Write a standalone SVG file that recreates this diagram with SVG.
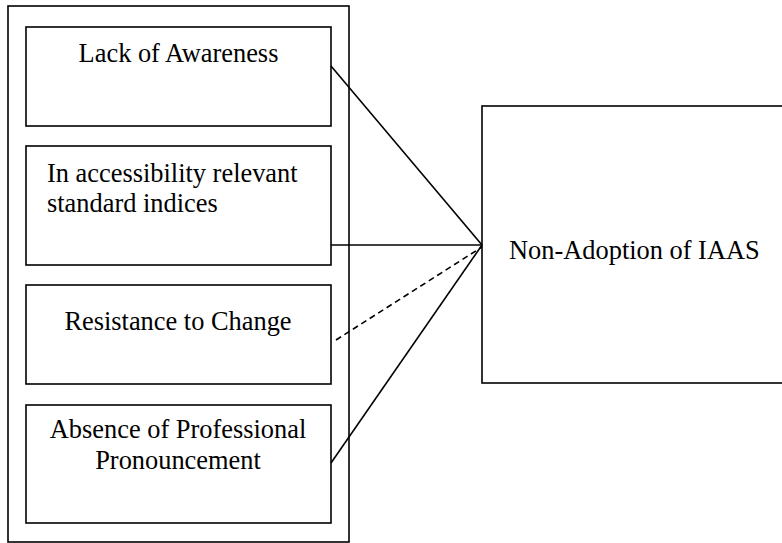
<svg xmlns="http://www.w3.org/2000/svg" width="782" height="543" viewBox="0 0 782 543">
<style>
.box{fill:#fff;stroke:#000;stroke-width:1.6}
.t{font-family:"Liberation Serif","Times New Roman",serif;font-size:26.4px;fill:#000}
.c{fill:none;stroke:#000;stroke-width:1.6}
.d{stroke-dasharray:6 4}
</style>
<rect width="782" height="543" fill="#fff"/>
<g id="container">
<rect class="box" x="8" y="6" width="341" height="536"/>
</g>
<g id="n1">
<rect class="box" x="26" y="27" width="305" height="99"/>
<text class="t" x="178.5" y="62" text-anchor="middle">Lack of Awareness</text>
</g>
<g id="n2">
<rect class="box" x="26" y="146" width="305" height="119"/>
<text class="t" x="47" y="182">In accessibility relevant</text>
<text class="t" x="47" y="212">standard indices</text>
</g>
<g id="n3">
<rect class="box" x="26" y="285" width="305" height="99"/>
<text class="t" x="178" y="330" text-anchor="middle">Resistance to Change</text>
</g>
<g id="n4">
<rect class="box" x="26" y="405" width="305" height="118"/>
<text class="t" x="178" y="438" text-anchor="middle">Absence of Professional</text>
<text class="t" x="178" y="469" text-anchor="middle">Pronouncement</text>
</g>
<g id="target">
<rect class="box" x="482" y="106" width="310" height="277"/>
<text class="t" x="509" y="259">Non-Adoption of IAAS</text>
</g>
<g id="connectors">
<line class="c" x1="331" y1="66" x2="482" y2="245"/>
<line class="c" x1="331" y1="245" x2="482" y2="245"/>
<line class="c d" x1="336" y1="340" x2="482" y2="247"/>
<line class="c" x1="331" y1="463" x2="482" y2="245"/>
</g>
</svg>
